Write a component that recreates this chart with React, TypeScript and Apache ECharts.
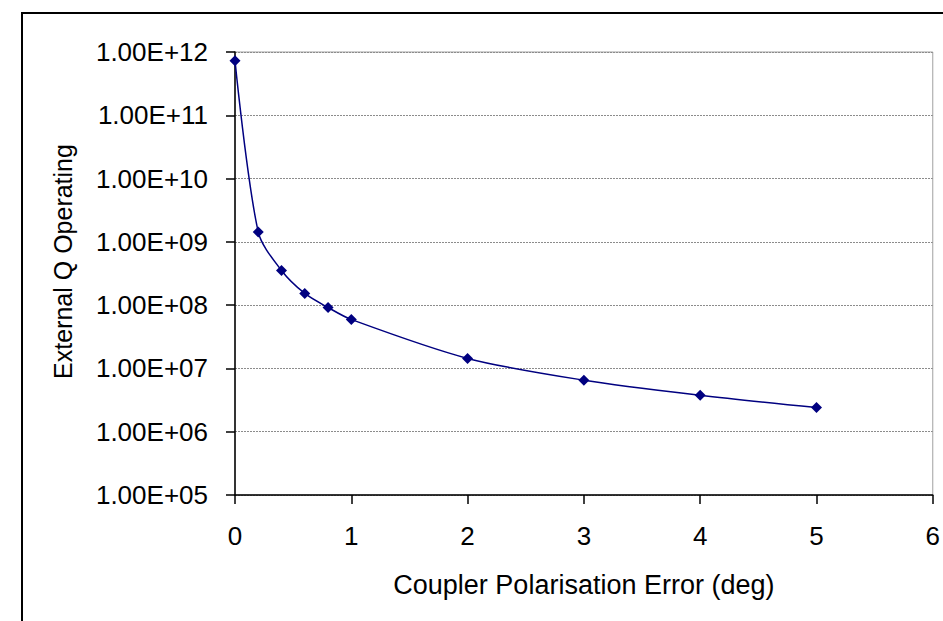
import React, { useEffect, useRef } from "react";
import * as echarts from "echarts";

const xValues = [0, 0.2, 0.4, 0.6, 0.8, 1, 2, 3, 4, 5];
const qValues = [7.3e11, 1.43e9, 3.53e8, 1.53e8, 9.19e7, 5.93e7, 1.44e7, 6.52e6, 3.78e6, 2.41e6];
const xTitle = "Coupler Polarisation Error (deg)";
const yTitle = "External Q Operating";

const FONT = "'Liberation Sans', Arial, sans-serif";

function fmtExp(v: number): string {
  const e = Math.round(Math.log10(v));
  const s = e < 0 ? "-" : "+";
  return `1.00E${s}${String(Math.abs(e)).padStart(2, "0")}`;
}

export default function App() {
  const ref = useRef<HTMLDivElement>(null);
  useEffect(() => {
    if (!ref.current) return;
    const chart = echarts.init(ref.current, null, { renderer: "svg" });
    chart.setOption({
      animation: false,
      backgroundColor: "#ffffff",
      graphic: [
        {
          type: "rect",
          shape: { x: 22, y: 13, width: 1000, height: 700 },
          style: { fill: "none", stroke: "#000", lineWidth: 2 },
          silent: true,
          z: 100,
        },
      ],
      grid: {
        left: 235,
        top: 52,
        right: 10,
        bottom: 126,
        show: true,
        borderColor: "#a0a0a0",
        borderWidth: 1,
        backgroundColor: "transparent",
      },
      xAxis: {
        type: "value",
        min: 0,
        max: 6,
        interval: 1,
        name: xTitle,
        nameLocation: "middle",
        nameGap: 76,
        nameTextStyle: { fontFamily: FONT, fontSize: 27, color: "#000" },
        axisLine: { show: true, onZero: false, lineStyle: { color: "#000", width: 1.5 } },
        axisTick: { show: true, inside: false, length: 9, lineStyle: { color: "#000", width: 1.5 } },
        axisLabel: { fontFamily: FONT, fontSize: 26, color: "#000", margin: 28 },
        splitLine: { show: false },
      },
      yAxis: {
        type: "log",
        logBase: 10,
        min: 1e5,
        max: 1e12,
        interval: 1,
        name: yTitle,
        nameLocation: "middle",
        nameGap: 160,
        nameTextStyle: { fontFamily: FONT, fontSize: 25, color: "#000", padding: [0, 0, 0, 24] },
        axisLine: { show: true, onZero: false, lineStyle: { color: "#000", width: 1.5 } },
        axisTick: { show: true, inside: false, length: 9, lineStyle: { color: "#000", width: 1.5 } },
        axisLabel: {
          fontFamily: FONT,
          fontSize: 26,
          color: "#000",
          margin: 27,
          formatter: (v: number) => fmtExp(v),
        },
        minorTick: { show: false },
        splitLine: { show: true, lineStyle: { color: "#8c8c8c", width: 1, type: [2, 1] } },
      },
      series: [
        {
          type: "line",
          data: xValues.map((x, i) => [x, qValues[i]]),
          smooth: 0.3,
          symbol: "diamond",
          symbolSize: 11,
          lineStyle: { color: "#000080", width: 1.5 },
          itemStyle: { color: "#000080" },
          z: 5,
        },
      ],
    });
    return () => chart.dispose();
  }, []);
  return (
    <div
      ref={ref}
      style={{ position: "fixed", left: 0, top: 0, width: 943, height: 621 }}
    />
  );
}
